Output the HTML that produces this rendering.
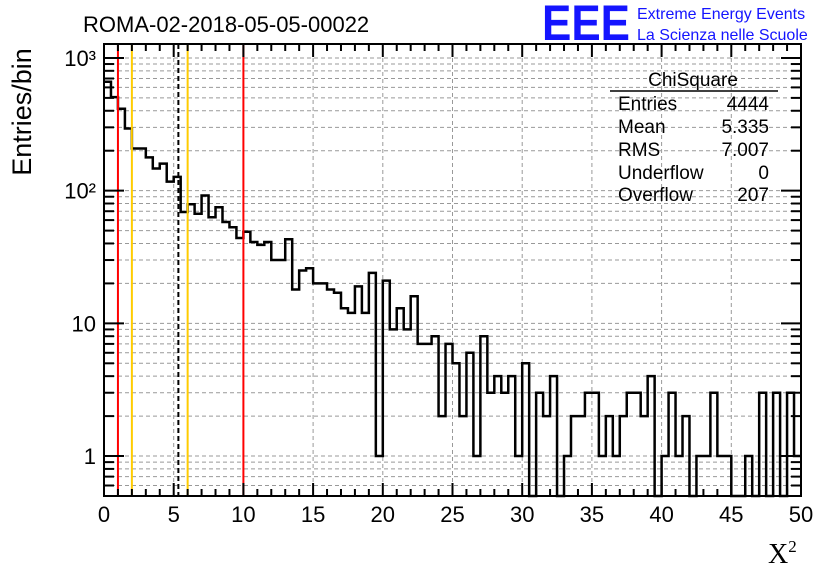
<!DOCTYPE html>
<html><head><meta charset="utf-8"><style>
html,body{margin:0;padding:0;background:#fff;}
svg{display:block;font-family:"Liberation Sans",sans-serif;}
</style></head><body>
<svg id="c" width="836" height="572" viewBox="0 0 836 572">
<rect width="836" height="572" fill="#fff"/>
<text x="83" y="32" font-size="22">ROMA-02-2018-05-05-00022</text>
<text x="542" y="40" font-size="50" font-weight="bold" fill="#1414ff" textLength="88" lengthAdjust="spacingAndGlyphs">EEE</text>
<text x="637" y="19" font-size="16" fill="#1414ff">Extreme Energy Events</text>
<text x="637" y="40" font-size="16" fill="#1414ff">La Scienza nelle Scuole</text>
<text transform="translate(31,112) rotate(-90)" text-anchor="middle" font-size="27">Entries/bin</text>
<text x="768" y="563" font-size="28" font-family="Liberation Serif,serif">X<tspan dy="-11" font-size="17">2</tspan></text>
<g id="grid"></g><g id="marks"></g><g id="axes"></g>
<g font-size="19">
<text x="693" y="86" text-anchor="middle">ChiSquare</text>
<line x1="610" y1="91" x2="778" y2="91" stroke="#000" stroke-width="1.5"/>
<text x="618" y="110">Entries</text><text x="769" y="110" text-anchor="end">4444</text>
<text x="618" y="133">Mean</text><text x="769" y="133" text-anchor="end">5.335</text>
<text x="618" y="156">RMS</text><text x="769" y="156" text-anchor="end">7.007</text>
<text x="618" y="179">Underflow</text><text x="769" y="179" text-anchor="end">0</text>
<text x="618" y="201">Overflow</text><text x="769" y="201" text-anchor="end">207</text>
</g>
</svg>
<script>
const counts=[662,507,414,294,208,208,178,147,160,117,127,69,79,67,92,63,75,58,53,44,49,41,39,41,30,30,43,18,25,26,20,20,18,17,13,12,19,
12,24,1,21,9,13,9,16,7,7,8,2,7,5,2,6,1,8,3,4,3,4,1,5,0,3,2,4,0,1,2,
2,3,3,1,2,1,2,3,3,2,4,0,1,3,1,2,0,1,1,3,1,1,0,0,1,0,3,0,3,0,3,1];
const xTicks=[0,5,10,15,20,25,30,35,40,45,50];
const yTicks=[1,10,100,1000];
const yTickLabels=["1","10","10²","10³"];
const cutLines=[1,2,6,10];
const cutColors=["#ff0000","#ffcc00","#ffcc00","#ff0000"];
const meanValue=5.335;
const X0=104,X1=801,Y0=496,Y1=44,XMIN=0,XMAX=50,YMIN=0.5,YMAX=1274;
const NS="http://www.w3.org/2000/svg";
const sx=v=>X0+(v-XMIN)/(XMAX-XMIN)*(X1-X0);
const sy=v=>v<=0?Y0:Math.max(Y1,Math.min(Y0,Y0-(Math.log10(v)-Math.log10(YMIN))/(Math.log10(YMAX)-Math.log10(YMIN))*(Y0-Y1)));
function el(p,t,a){const e=document.createElementNS(NS,t);for(const k in a)e.setAttribute(k,a[k]);p.appendChild(e);return e;}
const grid=document.getElementById('grid'),marks=document.getElementById('marks'),axes=document.getElementById('axes');
xTicks.forEach(t=>{if(t>XMIN&&t<XMAX){const l=el(grid,'line',{x1:sx(t),x2:sx(t),y1:Y1,y2:Y0,stroke:'#999','stroke-dasharray':'4,3'});

}});
for(let d=-1;d<=3;d++)for(let m=1;m<10;m++){const v=m*Math.pow(10,d);if(v<YMIN||v>YMAX)continue;const y=sy(v);
const l=el(grid,'line',{x1:X0,x2:X1,y1:y,y2:y,stroke:'#999','stroke-dasharray':'4,3'});


const t1=el(axes,'line',{x1:X0,x2:X0+(m==1?20:10),y1:y,y2:y,stroke:'#000','stroke-width':2});


const t2=el(axes,'line',{x1:X1,x2:X1-(m==1?20:10),y1:y,y2:y,stroke:'#000','stroke-width':2});

}
const bw=(XMAX-XMIN)/counts.length;
let d='M'+X0+','+sy(counts[0]);
counts.forEach((c,i)=>{const y=sy(c);d+=' L'+sx(XMIN+i*bw)+','+y+' L'+sx(XMIN+(i+1)*bw)+','+y;});
const h=el(marks,'path',{d:d,fill:'none',stroke:'#000','stroke-width':2.5});


cutLines.forEach((v,i)=>{const l=el(marks,'line',{x1:sx(v),x2:sx(v),y1:Y1,y2:Y0,stroke:cutColors[i],'stroke-width':2});

});
const ml=el(marks,'line',{x1:sx(meanValue),x2:sx(meanValue),y1:Y1,y2:Y0,stroke:'#000','stroke-width':2,'stroke-dasharray':'5,3'});


const fr=el(axes,'rect',{x:X0,y:Y1,width:X1-X0,height:Y0-Y1,fill:'none',stroke:'#000','stroke-width':2});


for(let v=XMIN;v<=XMAX;v++){const x=sx(v),L=(v%5==0)?13:7;
const a=el(axes,'line',{x1:x,x2:x,y1:Y0,y2:Y0-L,stroke:'#000','stroke-width':2});


const b=el(axes,'line',{x1:x,x2:x,y1:Y1,y2:Y1+L,stroke:'#000','stroke-width':2});

}
xTicks.forEach(t=>{const tx=el(axes,'text',{x:sx(t),y:522,'text-anchor':'middle','font-size':22});tx.textContent=t;

});
yTicks.forEach((t,i)=>{const lab=yTickLabels[i];const tx=el(axes,'text',{x:96,y:sy(t)+8,'text-anchor':'end','font-size':22});
tx.textContent=lab;

});
</script>
</body></html>
